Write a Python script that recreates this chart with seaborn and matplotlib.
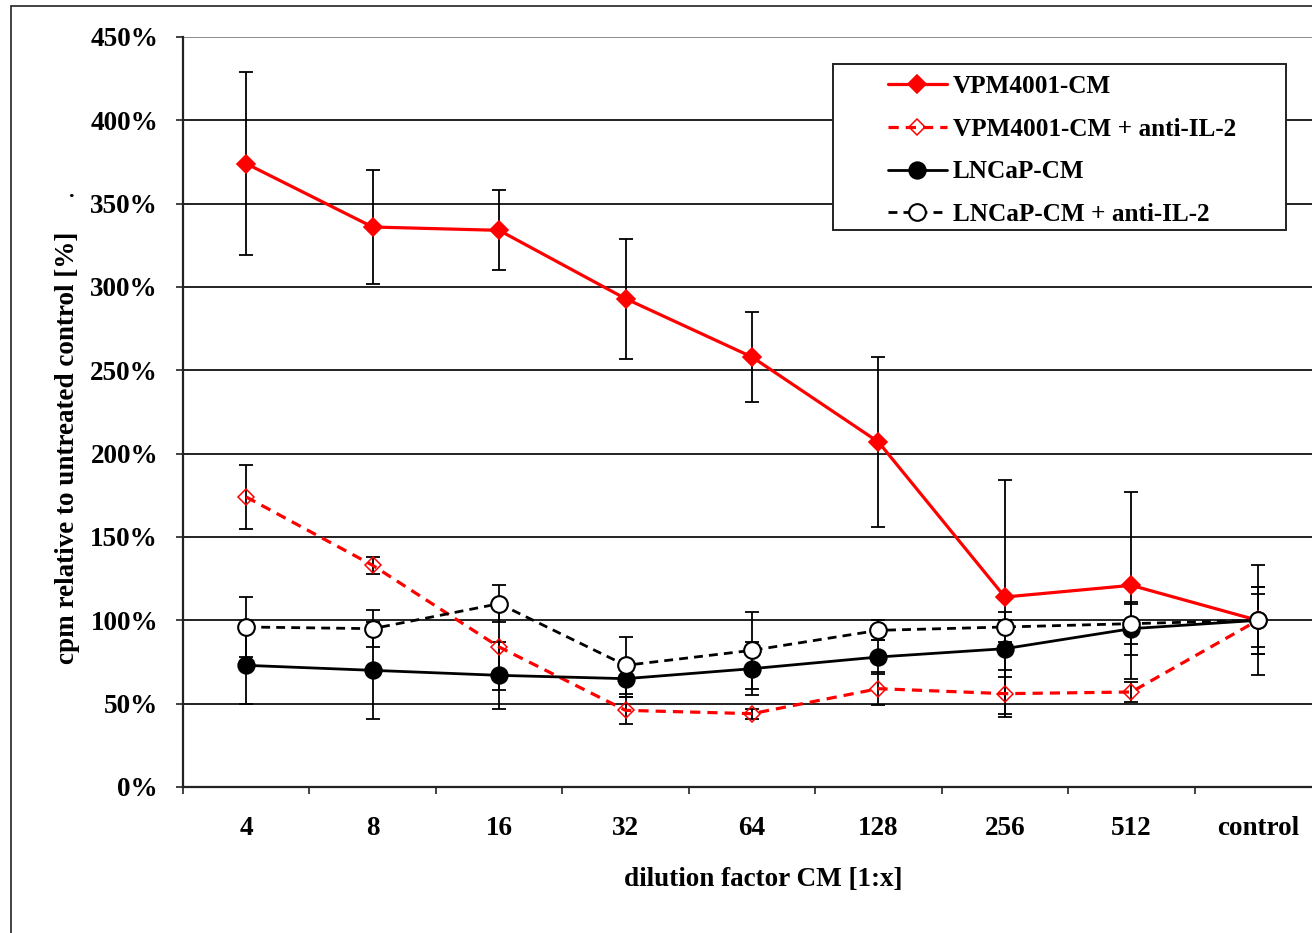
import matplotlib
matplotlib.use("Agg")
import matplotlib.pyplot as plt
from matplotlib.patches import Rectangle
import numpy as np
import pandas as pd
import seaborn as sns

# Dilution steps on the x axis
dilutions = ["4", "8", "16", "32", "64", "128", "256", "512", "control"]

# Proliferation (cpm relative to untreated control, %) and error bars
vpm_cm = [374, 336, 334, 293, 258, 207, 114, 121, 100]
vpm_cm_err = [55, 34, 24, 36, 27, 51, 70, 56, 33]

vpm_cm_anti = [174, 133, 84, 46, 44, 59, 56, 57, 100]
vpm_cm_anti_err = [19, 5, 26, 8, 3, 10, 14, 6, 20]

lncap_cm = [73, 70, 67, 65, 71, 78, 83, 95, 100]
lncap_cm_err = [23, 29, 20, 11, 16, 10, 17, 16, 16]

lncap_cm_anti = [96, 95, 110, 73, 82, 94, 96, 98, 100]
lncap_cm_anti_err = [18, 11, 11, 17, 23, 6, 9, 12, 20]

series_names = ["VPM4001-CM", "VPM4001-CM + anti-IL-2", "LNCaP-CM", "LNCaP-CM + anti-IL-2"]
y_ticks = [0, 50, 100, 150, 200, 250, 300, 350, 400, 450]

sns.set_theme(style="white")
plt.rcParams["font.family"] = ["Liberation Serif", "DejaVu Serif"]
plt.rcParams["font.weight"] = "bold"
for key in ["text.color", "axes.labelcolor", "xtick.color", "ytick.color"]:
    plt.rcParams[key] = "black"

TICK_FS = 19.5
LEG_FS = 18.2

W, H = 1312, 933
fig = plt.figure(figsize=(W / 100, H / 100), dpi=100)
fig.patch.set_facecolor("white")

# outer frame of the figure
fig.patches.append(Rectangle((11 / W, -0.2), 2.0, (933 - 6) / H + 0.2,
                             transform=fig.transFigure, fill=False,
                             edgecolor="#222222", lw=1.2, zorder=0))

ax = fig.add_axes([183 / W, (H - 787) / H, 1138 / W, 750 / H])
ax.set_facecolor("white")

pos = np.arange(len(dilutions))
df = pd.DataFrame({
    "pos": np.tile(pos, 4),
    "value": vpm_cm + vpm_cm_anti + lncap_cm + lncap_cm_anti,
    "err": vpm_cm_err + vpm_cm_anti_err + lncap_cm_err + lncap_cm_anti_err,
    "series": np.repeat(series_names, len(dilutions)),
})

styles = {
    "VPM4001-CM": dict(color="#ff0000", linestyle="-", lw=2.3, marker="D", ms=9.5,
                       markerfacecolor="#ff0000", markeredgecolor="#ff0000", mew=1.2),
    "VPM4001-CM + anti-IL-2": dict(color="#ff0000", linestyle=(0, (3.2, 2.2)), lw=2.3, marker="D",
                                   ms=8.5, markerfacecolor="none", markeredgecolor="#ff0000", mew=1.1),
    "LNCaP-CM": dict(color="black", linestyle="-", lw=2.0, marker="o", ms=12,
                     markerfacecolor="black", markeredgecolor="black", mew=1.2),
    "LNCaP-CM + anti-IL-2": dict(color="black", linestyle=(0, (3.2, 2.2)), lw=2.0, marker="o", ms=12,
                                 markerfacecolor="white", markeredgecolor="black", mew=1.5),
}

for i, name in enumerate(series_names):
    sub = df[df["series"] == name]
    ax.errorbar(sub["pos"], sub["value"], yerr=sub["err"], fmt="none", ecolor="black",
                elinewidth=1.3, capsize=5, capthick=1.3, zorder=3 + i * 0.1)
    sns.lineplot(data=sub, x="pos", y="value", ax=ax, label=name, zorder=4 + i * 0.1,
                 errorbar=None, **styles[name])

# axes limits and grid
ax.set_xlim(-0.5, len(dilutions) - 0.5)
ax.set_ylim(0, 450)
ax.set_yticks(y_ticks)
ax.set_yticklabels([f"{v}%" for v in y_ticks])
for v in y_ticks[1:]:
    ax.axhline(v, color="#222222" if v < 450 else "#8a8a8a", lw=1.4, zorder=1)

for s in ["top", "right"]:
    ax.spines[s].set_visible(False)
for s in ["left", "bottom"]:
    ax.spines[s].set_color("#222222")
    ax.spines[s].set_linewidth(1.6)
    ax.spines[s].set_zorder(2)

# category boundaries carry the ticks, labels sit between them
ax.set_xticks(np.arange(-0.5, len(dilutions) + 0.5, 1.0))
ax.set_xticklabels([])
ax.set_xticks(pos, minor=True)
ax.set_xticklabels(dilutions, minor=True)
ax.tick_params(axis="x", which="major", direction="out", length=5, width=1.2,
               color="#222222", bottom=True)
ax.tick_params(axis="x", which="minor", length=0, pad=21, labelsize=TICK_FS)
ax.tick_params(axis="y", direction="out", length=5, width=1.2, color="#222222",
               left=True, pad=13, labelsize=TICK_FS)
for lab in ax.get_xticklabels(minor=True) + ax.get_yticklabels():
    lab.set_fontweight("bold")

ax.set_xlabel("dilution factor CM [1:x]", fontsize=TICK_FS, fontweight="bold")
ax.xaxis.set_label_coords((763 - 183) / 1138, (787 - 879) / 750)
ax.xaxis.label.set_va("center")
ax.set_ylabel("cpm relative to untreated control [%]", fontsize=TICK_FS, fontweight="bold")
ax.yaxis.set_label_coords((68 - 183) / 1138, (787 - 448) / 750)
ax.yaxis.label.set_va("center")
fig.text(72 / W, 1 - 192 / H, ".", fontsize=16, fontweight="bold", ha="center", va="center")

# legend with a plain rectangular frame
leg = ax.legend(loc="upper left", bbox_to_anchor=((888 - 183) / 1138, (787 - 75) / 750),
                frameon=False, borderpad=0, borderaxespad=0, handlelength=2.32,
                handletextpad=0.24, labelspacing=0.78, prop={"size": LEG_FS, "weight": "bold"})
leg.set_zorder(10)
ax.add_patch(Rectangle(((833 - 183) / 1138, (787 - 230) / 750), (1286 - 833) / 1138, (230 - 64) / 750,
                       transform=ax.transAxes, facecolor="white", edgecolor="#222222",
                       lw=1.4, zorder=9, clip_on=False))

fig.savefig("out.png", dpi=100, facecolor="white")
